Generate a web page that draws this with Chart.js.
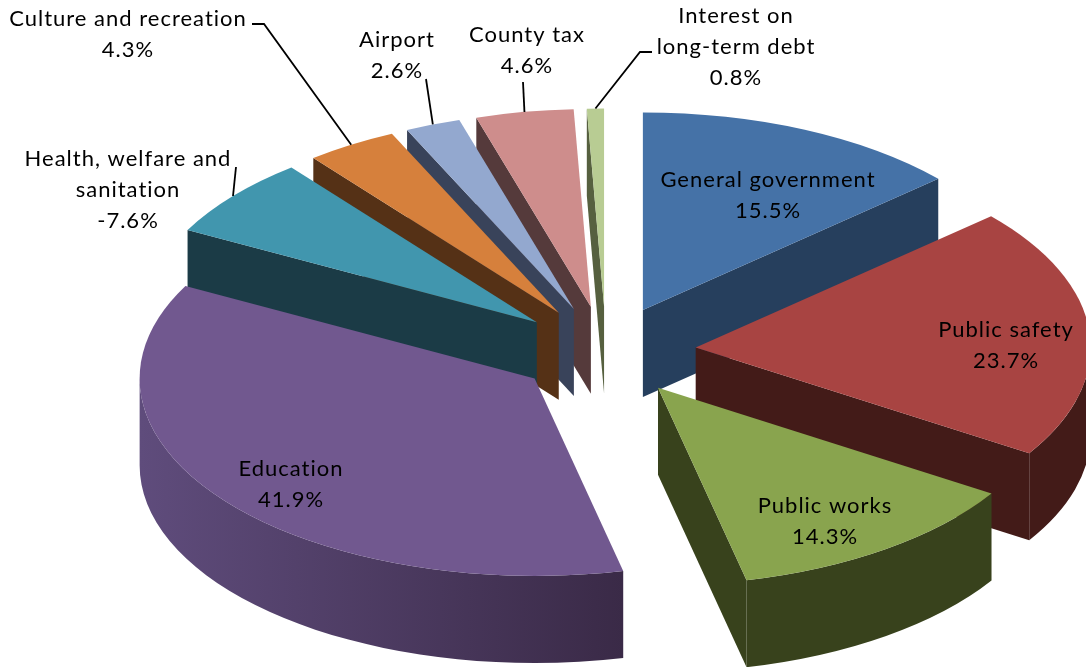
<!DOCTYPE html>
<html>
<head>
<meta charset="utf-8">
<title>Expenditures by function</title>
<style>
  html, body { margin: 0; padding: 0; background: #fff; }
  canvas { display: block; }
</style>
<script src="https://cdn.jsdelivr.net/npm/chart.js@4"></script>
</head>
<body>
<canvas id="pie" width="1086" height="667"></canvas>
<script>
const categories = [
  'General government', 'Public safety', 'Public works', 'Education',
  'Health, welfare and sanitation', 'Culture and recreation', 'Airport',
  'County tax', 'Interest on long-term debt',
];
const shares = [15.5, 23.7, 14.3, 41.9, -7.6, 4.3, 2.6, 4.6, 0.8];

const topColors = ['#4572A7', '#A84442', '#89A44E', '#71588F', '#4196AE', '#D6803C', '#93A8CF', '#CE8D8C', '#B8CC93'];
const wallColors = ['#263F5D', '#431B18', '#38421C', '#3A2A47', '#1B3B46', '#553116', '#39435A', '#553A3B', '#56603F'];

// how the labels wrap, one entry per category
const labelLines = [
  ['General government'], ['Public safety'], ['Public works'], ['Education'],
  ['Health, welfare and', 'sanitation'], ['Culture and recreation'], ['Airport'],
  ['County tax'], ['Interest on', 'long-term debt'],
];
const labelSpots = [[768, 180], [1006, 330], [825, 506], [291, 469], [128, 159], [128, 19], [397, 40], [527, 35], [736, 16]];
// leader line start and elbow, null where the label sits on its slice
const leaderStarts = [null, null, null, null, [[236, 167]], [[252, 24], [264, 24]], [[426, 79]], [[523, 82]], [[652, 52], [640, 52]]];

const LINE_HEIGHT = 31;
const PIE_WIDTH = 395;    // on-screen radius along x
const TILT = 0.5;         // y squash of the tilted disc
const DEPTH = 87;         // wall height
const EXPLODE = 90 / 395; // slice pull-out as a share of the radius
const PAINT_ORDER = [8, 7, 6, 5, 4, 0, 1, 2, 3]; // back to front

// returns a helper that places disc coordinates on screen for one arc
function projector(arc) {
  const scale = PIE_WIDTH / arc.outerRadius;
  const mid = (arc.startAngle + arc.endAngle) / 2;
  const cx = arc.x + Math.cos(mid) * EXPLODE * PIE_WIDTH;
  const cy = arc.y + Math.sin(mid) * EXPLODE * PIE_WIDTH * TILT;
  return {
    cx,
    cy,
    rx: arc.outerRadius * scale,
    ry: arc.outerRadius * scale * TILT,
    rim(angle, lift = 0) {
      return [cx + Math.cos(angle) * this.rx, cy + Math.sin(angle) * this.ry + lift];
    },
  };
}

function drawCutWall(ctx, p, angle, color) {
  const [x, y] = p.rim(angle);
  ctx.beginPath();
  ctx.moveTo(p.cx, p.cy);
  ctx.lineTo(x, y);
  ctx.lineTo(x, y + DEPTH);
  ctx.lineTo(p.cx, p.cy + DEPTH);
  ctx.closePath();
  ctx.fillStyle = color;
  ctx.fill();
}

function drawRimWall(ctx, p, from, to, color, lightColor) {
  ctx.beginPath();
  ctx.ellipse(p.cx, p.cy, p.rx, p.ry, 0, from, to);
  ctx.ellipse(p.cx, p.cy + DEPTH, p.rx, p.ry, 0, to, from, true);
  ctx.closePath();
  // the rim darkens towards the right of the wall
  const [xa] = p.rim(to);
  const [xb] = p.rim(from);
  const shade = ctx.createLinearGradient(xa, 0, xb, 0);
  shade.addColorStop(0, lightColor);
  shade.addColorStop(1, color);
  ctx.fillStyle = shade;
  ctx.fill();
}

function drawSlice(ctx, arc, i) {
  const p = projector(arc);
  const { startAngle: start, endAngle: end } = arc;
  const wall = wallColors[i];

  if (Math.cos(end) > 0.001) drawCutWall(ctx, p, end, wall);
  if (Math.cos(start) < -0.001) drawCutWall(ctx, p, start, wall);

  const from = Math.max(start, 0);
  const to = Math.min(end, Math.PI);
  if (to > from) drawRimWall(ctx, p, from, to, wall, i === 3 ? '#5F4C7C' : wall);

  ctx.beginPath();
  ctx.moveTo(p.cx, p.cy);
  ctx.ellipse(p.cx, p.cy, p.rx, p.ry, 0, start, end);
  ctx.closePath();
  ctx.fillStyle = arc.options.backgroundColor;
  ctx.fill();
}

function drawLeader(ctx, arc, points) {
  const [x, y] = projector(arc).rim((arc.startAngle + arc.endAngle) / 2);
  ctx.beginPath();
  points.forEach(([px, py], n) => (n ? ctx.lineTo(px, py) : ctx.moveTo(px, py)));
  ctx.lineTo(x, y);
  ctx.strokeStyle = '#000';
  ctx.lineWidth = 1.8;
  ctx.stroke();
}

function drawLabel(ctx, i) {
  const [x, y] = labelSpots[i];
  const lines = [...labelLines[i], shares[i].toFixed(1) + '%'];
  ctx.font = '22px Lato';
  ctx.letterSpacing = '1px';
  ctx.textAlign = 'center';
  ctx.textBaseline = 'middle';
  ctx.fillStyle = '#000';
  lines.forEach((line, n) => ctx.fillText(line, x, y + n * LINE_HEIGHT));
}

const tiltedPie = {
  id: 'tiltedPie',
  // the arcs stay in the chart for their angles; the disc itself is painted here
  beforeDatasetDraw() {
    return false;
  },
  afterDatasetsDraw(chart) {
    const ctx = chart.ctx;
    const arcs = chart.getDatasetMeta(0).data;
    ctx.save();
    PAINT_ORDER.forEach(i => drawSlice(ctx, arcs[i], i));
    leaderStarts.forEach((points, i) => {
      if (points) drawLeader(ctx, arcs[i], points);
    });
    categories.forEach((_, i) => drawLabel(ctx, i));
    ctx.restore();
  },
};

new Chart(document.getElementById('pie'), {
  type: 'pie',
  data: {
    labels: categories,
    datasets: [{
      data: shares,
      backgroundColor: topColors,
      borderWidth: 0,
    }],
  },
  options: {
    responsive: false,
    animation: false,
    layout: { padding: { left: 126, top: 35 } },
    plugins: {
      legend: { display: false },
      tooltip: { enabled: false },
    },
  },
  plugins: [tiltedPie],
});
</script>
</body>
</html>
